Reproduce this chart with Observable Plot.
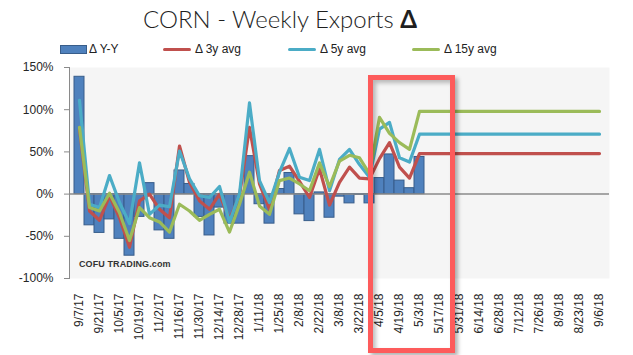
<!DOCTYPE html>
<html>
<head>
<meta charset="utf-8">
<script src="https://cdn.jsdelivr.net/npm/d3@7"></script>
<script src="https://cdn.jsdelivr.net/npm/@observablehq/plot@0.6"></script>
<style>
  html, body { margin: 0; padding: 0; background: #ffffff; }
  #wrap { position: relative; width: 633px; height: 355px; overflow: hidden; font-family: "Liberation Sans", Arial, sans-serif; }
  #title { position: absolute; left: 143px; top: 4px; font-family: Lato, "Open Sans", sans-serif; font-weight: 300; font-size: 24px; color: #1f1f1f; white-space: nowrap; }
  #title b { font-weight: 700; }
  #legend { position: absolute; left: 0; top: 40px; height: 18px; width: 633px; font-size: 12px; color: #222; }
  .li { position: absolute; top: 0; height: 18px; display: flex; align-items: center; white-space: nowrap; }
  .sw-bar { width: 27px; height: 9px; background: #4f81bd; border: 1px solid #385d8a; box-sizing: border-box; margin-right: 2px; }
  .sw-line { width: 28px; height: 3px; margin-right: 4px; border-radius: 2px; }
  #chart { position: absolute; left: 0; top: 58px; }
  #box { position: absolute; left: 368px; top: 75px; width: 87px; height: 278px; border: 5px solid #fd5b5b; box-sizing: border-box;
         box-shadow: 3px 3px 4px rgba(0,0,0,0.3), inset 3px 3px 4px rgba(0,0,0,0.25); pointer-events: none; }
  #mark { position: absolute; left: 79px; top: 259px; font-size: 9px; font-weight: 700; color: #333; letter-spacing: 0.1px; }
</style>
</head>
<body>
<div id="wrap">
  <div id="title">CORN - Weekly Exports <b>Δ</b></div>
  <div id="legend">
    <div class="li" style="left:60px"><div class="sw-bar"></div>Δ Y-Y</div>
    <div class="li" style="left:163px"><div class="sw-line" style="background:#c0504d"></div>Δ 3y avg</div>
    <div class="li" style="left:288px"><div class="sw-line" style="background:#4bacc6"></div>Δ 5y avg</div>
    <div class="li" style="left:412px"><div class="sw-line" style="background:#9bbb59"></div>Δ 15y avg</div>
  </div>
  <div id="chart"></div>
  <div id="mark">COFU TRADING.com</div>
  <div id="box"></div>
</div>
<script>
const dates = ["9/7/17","9/14/17","9/21/17","9/28/17","10/5/17","10/12/17","10/19/17","10/26/17","11/2/17","11/9/17",
  "11/16/17","11/23/17","11/30/17","12/7/17","12/14/17","12/21/17","12/28/17","1/4/18","1/11/18","1/18/18",
  "1/25/18","2/1/18","2/8/18","2/15/18","2/22/18","3/1/18","3/8/18","3/15/18","3/22/18","3/29/18",
  "4/5/18","4/12/18","4/19/18","4/26/18","5/3/18","5/10/18","5/17/18","5/24/18","5/31/18","6/7/18",
  "6/14/18","6/21/18","6/28/18","7/5/18","7/12/18","7/19/18","7/26/18","8/2/18","8/9/18","8/16/18",
  "8/23/18","8/30/18","9/6/18"];

const tickLabels = ["9/7/17","9/21/17","10/5/17","10/19/17","11/2/17","11/16/17","11/30/17","12/14/17","12/28/17",
  "1/11/18","1/25/18","2/8/18","2/22/18","3/8/18","3/22/18","4/5/18","4/19/18","5/3/18","5/17/18","5/31/18",
  "6/14/18","6/28/18","7/12/18","7/26/18","8/9/18","8/23/18","9/6/18"];

const yTicks = [-100, -50, 0, 50, 100, 150];

// Δ Y-Y (bars), 9/7/17 .. 5/3/18
const deltaYY = [139,-37,-46,-30,-53,-73,-27,13,-43,-53,28,12,-27,-49,-16,-35,-35,45,-12,-35,
  6,25,-24,-32,2,-28,-3,-11,-1,-11,19,47,16,7,44];

const delta3y = [77,-20,-31,-2,-28,-63,-8,0,-18,-28,57,14,-8,-18,0,-30,-2,79,12,-18,
  28,33,15,-4,30,-13,14,32,19,18,42,61,32,19,48,48,48,48,48,48,
  48,48,48,48,48,48,48,48,48,48,48,48,48];

const delta5y = [111,-12,-16,22,-10,-35,37,-24,-13,-15,51,18,-2,-4,9,-33,0,108,16,-10,
  26,54,20,16,53,4,41,53,35,20,77,85,43,38,71,71,71,71,71,71,
  71,71,71,71,71,71,71,71,71,71,71,71,71];

const delta15y = [79,-16,-20,1,-22,-55,-16,-28,-33,-45,-12,-20,-31,-24,-18,-45,-12,26,-14,-24,
  16,19,12,4,37,9,39,46,43,24,91,72,61,53,98,98,98,98,98,98,
  98,98,98,98,98,98,98,98,98,98,98,98,98];

const barRows = deltaYY.map((v, i) => ({date: dates[i], value: v}));
const rows = (arr) => arr.map((v, i) => ({date: dates[i], value: v}));

const chart = Plot.plot({
  width: 633,
  height: 297,
  marginTop: 9,
  marginBottom: 77,
  marginLeft: 69,
  marginRight: 24,
  style: {background: "transparent", fontFamily: "Liberation Sans, Arial, sans-serif", fontSize: "12px", color: "#262626"},
  x: {type: "band", domain: dates, padding: 0, axis: null},
  y: {domain: [-100, 150], axis: null},
  marks: [
    Plot.frame({fill: "#f5f5f5", stroke: null}),
    Plot.barY(barRows, {x: "date", y: "value", fill: "#4f81bd", stroke: "#385d8a", strokeWidth: 1}),
    Plot.ruleY([0], {stroke: "#8a8a8a", strokeWidth: 1.5}),
    Plot.line(rows(delta3y), {x: "date", y: "value", stroke: "#c0504d", strokeWidth: 3.2, strokeLinejoin: "round"}),
    Plot.line(rows(delta5y), {x: "date", y: "value", stroke: "#4bacc6", strokeWidth: 3.2, strokeLinejoin: "round"}),
    Plot.line(rows(delta15y), {x: "date", y: "value", stroke: "#9bbb59", strokeWidth: 3.2, strokeLinejoin: "round"}),
    Plot.axisY({ticks: yTicks, tickFormat: d => d + "%", tickSize: 5, tickPadding: 11, stroke: "#8a8a8a", label: null}),
    Plot.axisX({ticks: tickLabels, tickRotate: -90, tickSize: 0, tickPadding: 15, label: null}),
    Plot.frame({anchor: "left", stroke: "#8a8a8a"})
  ]
});
document.getElementById("chart").appendChild(chart);
</script>
</body>
</html>
